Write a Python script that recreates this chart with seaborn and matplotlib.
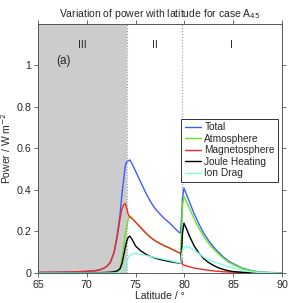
import matplotlib as mpl

mpl.use('Agg')
import matplotlib.pyplot as plt
import seaborn as sns
import pandas as pd

#### data ####
latitude = [65, 67, 69, 70, 71, 71.5, 72, 72.4, 72.8, 73.1, 73.4, 73.6, 73.8, 73.95,
            74.1, 74.25, 74.4, 74.6, 75.0, 75.5, 76, 76.5, 77, 77.5, 78, 78.5, 79,
            79.4, 79.6, 79.7, 79.8, 79.95, 80.2, 80.5, 81, 81.5, 82, 82.5, 83, 83.5,
            84, 84.5, 85, 86, 87, 88, 89, 90]
total = [0.003, 0.004, 0.006, 0.008, 0.012, 0.018, 0.03, 0.05, 0.10, 0.18, 0.28, 0.38,
         0.46, 0.52, 0.535, 0.54, 0.545, 0.53, 0.49, 0.44, 0.39, 0.346, 0.31, 0.284,
         0.26, 0.24, 0.216, 0.198, 0.192, 0.26, 0.36, 0.41, 0.38, 0.345, 0.285, 0.235,
         0.19, 0.155, 0.125, 0.10, 0.077, 0.058, 0.045, 0.022, 0.01, 0.004, 0.002, 0.001]
atmosphere = [0, 0, 0, 0, 0, 0, 0, 0, 0, 0.005, 0.02, 0.07, 0.14, 0.19, 0.225, 0.26,
              0.275, 0.265, 0.245, 0.22, 0.195, 0.173, 0.155, 0.142, 0.13, 0.12, 0.108,
              0.099, 0.096, 0.19, 0.32, 0.37, 0.345, 0.315, 0.26, 0.215, 0.174, 0.142,
              0.115, 0.092, 0.071, 0.053, 0.041, 0.02, 0.009, 0.003, 0.002, 0.001]
magnetosphere = [0.003, 0.004, 0.006, 0.008, 0.012, 0.018, 0.03, 0.05, 0.10, 0.17, 0.26,
                 0.31, 0.33, 0.335, 0.31, 0.28, 0.27, 0.265, 0.245, 0.22, 0.195, 0.173,
                 0.155, 0.142, 0.13, 0.12, 0.108, 0.099, 0.096, 0.07, 0.042, 0.038,
                 0.034, 0.03, 0.024, 0.02, 0.016, 0.013, 0.01, 0.008, 0.006, 0.005,
                 0.004, 0.002, 0.001, 0.001, 0.0, 0.0]
joule = [0.0, 0.0, 0.001, 0.001, 0.002, 0.002, 0.003, 0.004, 0.006, 0.01, 0.02, 0.045,
         0.09, 0.125, 0.155, 0.172, 0.178, 0.165, 0.13, 0.108, 0.092, 0.08, 0.072,
         0.065, 0.06, 0.055, 0.051, 0.048, 0.047, 0.1, 0.19, 0.24, 0.215, 0.18, 0.13,
         0.095, 0.068, 0.05, 0.036, 0.025, 0.017, 0.011, 0.007, 0.003, 0.001, 0.0, 0.0, 0.0]
ion_drag = [0, 0, 0, 0, 0, 0, 0, 0, 0, 0, 0.002, 0.008, 0.02, 0.035, 0.055, 0.075,
            0.085, 0.091, 0.094, 0.09, 0.085, 0.08, 0.075, 0.07, 0.065, 0.06, 0.054,
            0.05, 0.048, 0.08, 0.11, 0.123, 0.127, 0.124, 0.11, 0.093, 0.076, 0.063,
            0.054, 0.047, 0.038, 0.03, 0.024, 0.012, 0.005, 0.002, 0.001, 0.0]

series_names = ['Total', 'Atmosphere', 'Magnetosphere', 'Joule Heating', 'Ion Drag']
series_colors = ['#3d5cff', '#66e61f', '#f02a1e', '#000000', '#7dffe0']
boundaries = [74.15, 79.72]
region_labels = ['III', 'II', 'I']
########################

df = pd.concat([
    pd.DataFrame({'lat': latitude, 'power': vals, 'kind': name})
    for name, vals in zip(series_names,
                          [total, atmosphere, magnetosphere, joule, ion_drag])
])

sns.set_style('ticks')
plt.rcParams['font.family'] = ['Liberation Sans', 'DejaVu Sans']
plt.rcParams['font.size'] = 7.5

fig = plt.figure(figsize=(2.89, 3.03), dpi=100)
ax = fig.add_axes([0.1315, 0.099, 0.8443, 0.822])

# shaded region III and the boundaries
ax.axvspan(65, boundaries[0], color='#cccccc', lw=0, zorder=0)
for b in boundaries:
    ax.axvline(b, color='#999999', ls=':', lw=0.8, zorder=1)

sns.lineplot(data=df, x='lat', y='power', hue='kind', hue_order=series_names,
             palette=series_colors, lw=1.0, ax=ax, sort=False)

ax.set_xlim(65, 90)
ax.set_ylim(0, 1.2)
ax.set_xticks(range(65, 91, 5))
ax.set_yticks([0, 0.2, 0.4, 0.6, 0.8, 1.0])
ax.set_yticklabels(['0', '0.2', '0.4', '0.6', '0.8', '1'])
ax.tick_params(direction='out', length=3, width=0.6, color='#555555',
               top=True, right=True, labelsize=7.7, pad=2)
for sp in ax.spines.values():
    sp.set_visible(True)
    sp.set_color('#555555')
    sp.set_linewidth(0.7)

# region labels
mids = [(65 + boundaries[0]) / 2, (boundaries[0] + boundaries[1]) / 2,
        (boundaries[1] + 90) / 2]
for m, lab in zip(mids, region_labels):
    ax.text(m, 1.1, lab, ha='center', va='center', fontsize=7.5)
ax.text(67.6, 1.02, '(a)', ha='center', va='center', fontsize=8.5)

ax.set_xlabel('Latitude / °', fontsize=7.5, labelpad=1)
ax.set_ylabel('Power / W m$^{-2}$', fontsize=7.5, labelpad=2)
ax.set_title('Variation of power with latitude for case A$_{45}$',
             fontsize=7.5, pad=5)

handles, labels = ax.get_legend_handles_labels()
leg = ax.legend(handles, labels, loc='upper right', bbox_to_anchor=(0.985, 0.62),
                fancybox=False, framealpha=1, edgecolor='#333333',
                fontsize=7.3, handlelength=1.6, handletextpad=0.35,
                borderpad=0.35, labelspacing=0.15, borderaxespad=0)
leg.get_frame().set_linewidth(0.7)

fig.savefig('out.png', dpi=100)
